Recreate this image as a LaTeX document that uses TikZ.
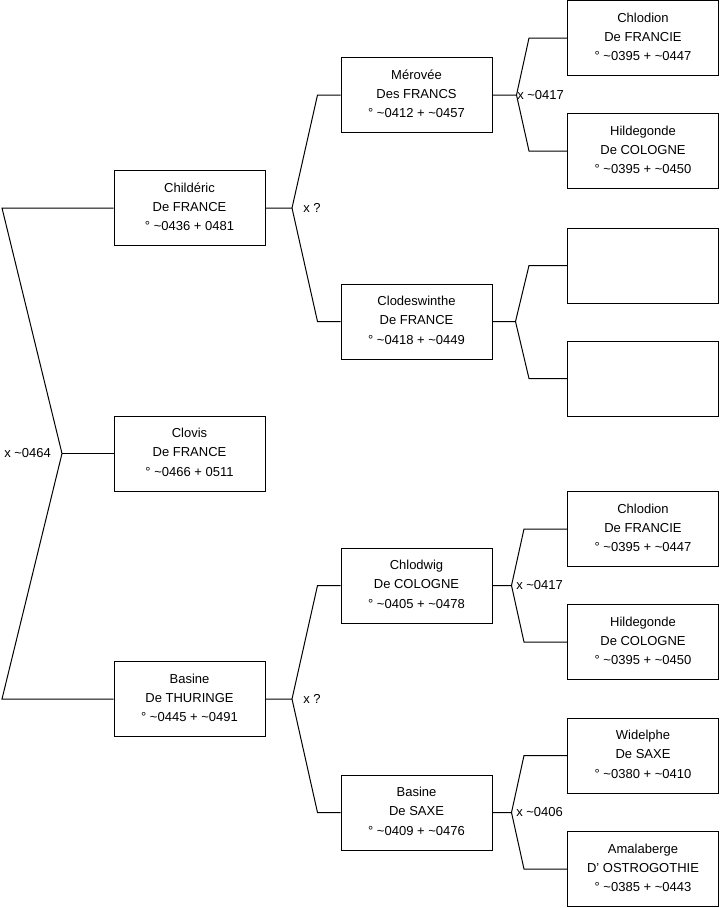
\documentclass[tikz,border=0pt]{standalone}
\usepackage{fontspec}
\setmainfont{Liberation Sans}
\usetikzlibrary{calc}
\begin{document}
\begin{tikzpicture}[x=0.75pt,y=-0.75pt,
  person/.style={draw, line width=0.75pt, minimum width=113.25pt, minimum height=56.25pt,
    inner sep=0pt, align=center, text height=36pt, text depth=1.6pt,
    font=\fontsize{9.75}{14.6}\selectfont},
  link/.style={line width=0.75pt},
  union/.style={anchor=west, inner sep=0pt, font=\fontsize{9.75}{14.6}\selectfont}]
\useasboundingbox (0,0) rectangle (719,908);

% level 1
\node[person] (child) at (189.5,208) {Childéric\\De FRANCE\\° \textasciitilde0436 + 0481};
\node[person] (clovis) at (189.5,453.5) {Clovis\\De FRANCE\\° \textasciitilde0466 + 0511};
\node[person] (basine) at (189.5,699) {Basine\\De THURINGE\\° \textasciitilde0445 + \textasciitilde0491};

% level 2
\node[person] (merov) at (416.5,95) {Mérovée\\Des FRANCS\\° \textasciitilde0412 + \textasciitilde0457};
\node[person] (clodes) at (416.5,321.5) {Clodeswinthe\\De FRANCE\\° \textasciitilde0418 + \textasciitilde0449};
\node[person] (chlodwig) at (416.5,585.5) {Chlodwig\\De COLOGNE\\° \textasciitilde0405 + \textasciitilde0478};
\node[person] (basaxe) at (416.5,812.5) {Basine\\De SAXE\\° \textasciitilde0409 + \textasciitilde0476};

% level 3
\node[person] (chlodA) at (643,38) {Chlodion\\De FRANCIE\\° \textasciitilde0395 + \textasciitilde0447};
\node[person] (hildA) at (643,151) {Hildegonde\\De COLOGNE\\° \textasciitilde0395 + \textasciitilde0450};
\node[person] (emptyA) at (643,265.5) {};
\node[person] (emptyB) at (643,378.5) {};
\node[person] (chlodB) at (643,529) {Chlodion\\De FRANCIE\\° \textasciitilde0395 + \textasciitilde0447};
\node[person] (hildB) at (643,642) {Hildegonde\\De COLOGNE\\° \textasciitilde0395 + \textasciitilde0450};
\node[person] (widel) at (643,755.5) {Widelphe\\De SAXE\\° \textasciitilde0380 + \textasciitilde0410};
\node[person] (amala) at (643,869) {Amalaberge\\D' OSTROGOTHIE\\° \textasciitilde0385 + \textasciitilde0443};

% root connectors
\coordinate (r) at (62,453.5);
\coordinate (rt) at (2,208);
\coordinate (rb) at (2,699);
\draw[link] (child.west) -- (rt) -- (r) -- (rb) -- (basine.west);
\draw[link] (r) -- (clovis.west);
\node[union] (lr) at (4,453.5) {x \textasciitilde0464};

% Childeric
\coordinate (v1) at ($(child.east)+(26.5,0)$);
\draw[link] (child.east) -- (v1) -- ($(merov.west)+(-23,0)$) -- (merov.west);
\draw[link] (v1) -- ($(clodes.west)+(-23,0)$) -- (clodes.west);
\node[union] (l1) at (303,208) {x ?};

% Basine
\coordinate (v2) at ($(basine.east)+(26.5,0)$);
\draw[link] (basine.east) -- (v2) -- ($(chlodwig.west)+(-23,0)$) -- (chlodwig.west);
\draw[link] (v2) -- ($(basaxe.west)+(-23,0)$) -- (basaxe.west);
\node[union] (l2) at (303,699) {x ?};

% Merovee
\coordinate (v3) at ($(merov.east)+(24,0)$);
\draw[link] (merov.east) -- (v3) -- ($(chlodA.west)+(-38,0)$) -- (chlodA.west);
\draw[link] (v3) -- ($(hildA.west)+(-38,0)$) -- (hildA.west);
\node[union] (l3) at (517,95) {x \textasciitilde0417};

% Clodeswinthe
\coordinate (v4) at ($(clodes.east)+(23,0)$);
\draw[link] (clodes.east) -- (v4) -- ($(emptyA.west)+(-38,0)$) -- (emptyA.west);
\draw[link] (v4) -- ($(emptyB.west)+(-38,0)$) -- (emptyB.west);

% Chlodwig
\coordinate (v5) at ($(chlodwig.east)+(19,0)$);
\draw[link] (chlodwig.east) -- (v5) -- ($(chlodB.west)+(-43,0)$) -- (chlodB.west);
\draw[link] (v5) -- ($(hildB.west)+(-43,0)$) -- (hildB.west);
\node[union] (l5) at (516,585.5) {x \textasciitilde0417};

% Basine de Saxe
\coordinate (v6) at ($(basaxe.east)+(19,0)$);
\draw[link] (basaxe.east) -- (v6) -- ($(widel.west)+(-43,0)$) -- (widel.west);
\draw[link] (v6) -- ($(amala.west)+(-43,0)$) -- (amala.west);
\node[union] (l6) at (516,812.5) {x \textasciitilde0406};
\end{tikzpicture}
\end{document}
